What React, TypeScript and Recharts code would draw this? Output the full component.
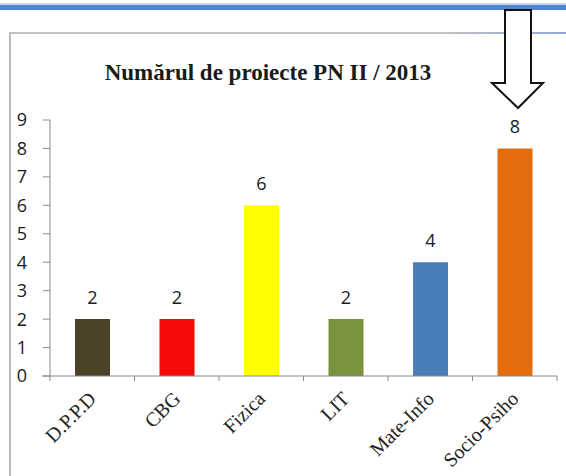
import { BarChart, Bar, XAxis, YAxis, Cell, LabelList } from "recharts";

const categories = ["D.P.P.D", "CBG", "Fizica", "LIT", "Mate-Info", "Socio-Psiho"];
const projectCounts = [2, 2, 6, 2, 4, 8];
const barColors = ["#4a4327", "#f80808", "#ffff00", "#77933c", "#4a7ebb", "#e46c0a"];
const yTicks = [0, 1, 2, 3, 4, 5, 6, 7, 8, 9];

const data = categories.map((name, i) => ({ name, value: projectCounts[i] }));

const W = 566;
const H = 476;
const Y_AXIS_W = 50;
const MARGIN = { top: 120, right: 9, left: 0, bottom: 0 };
const BAND = (W - MARGIN.right - Y_AXIS_W) / categories.length;
const AXIS_GRAY = "#8a8a8a";
const SANS = "'Open Sans', Lato, sans-serif";
const SERIF = "'Liberation Serif', 'Times New Roman', serif";

const CategoryTick = (props: any) => {
  const { x, y, payload, index } = props;
  const half = BAND / 2;
  return (
    <g>
      {index === 0 && (
        <>
          <line x1={x - half - 8} y1={y} x2={x - half} y2={y} stroke={AXIS_GRAY} />
          <line x1={x - half} y1={y} x2={x - half} y2={y + 5} stroke={AXIS_GRAY} />
        </>
      )}
      <line x1={x + half} y1={y} x2={x + half} y2={y + 5} stroke={AXIS_GRAY} />
      <text
        x={x + 5}
        y={y + 24}
        textAnchor="end"
        transform={`rotate(-45, ${x + 5}, ${y + 24})`}
        fontFamily={SERIF}
        fontSize={20}
        fill="#222"
      >
        {payload.value}
      </text>
    </g>
  );
};

export default function App() {
  return (
    <div
      style={{
        position: "absolute",
        left: 0,
        top: 0,
        width: W,
        height: H,
        background: "#fff",
        overflow: "hidden",
      }}
    >
      {/* slide decoration */}
      <div style={{ position: "absolute", left: 0, top: 3, width: W, height: 2, background: "#c4d5f1" }} />
      <div style={{ position: "absolute", left: 0, top: 5, width: W, height: 5, background: "#4f84d2" }} />
      <div style={{ position: "absolute", left: 9, top: 33, width: 2, height: H, background: "#bcbcbc" }} />
      <div
        style={{
          position: "absolute",
          left: 9,
          top: 32,
          width: W,
          height: 2,
          background: "linear-gradient(to right, #c0c0c0 0%, #c0c0c0 78%, #8aa6dc 100%)",
        }}
      />

      <div
        style={{
          position: "absolute",
          left: 0,
          top: 60,
          width: 536,
          textAlign: "center",
          fontFamily: SERIF,
          fontWeight: "bold",
          fontSize: 23,
          color: "#1a1a1a",
        }}
      >
        Numărul de proiecte PN II / 2013
      </div>

      <div style={{ position: "absolute", left: 0, top: 0 }}>
        <BarChart width={W} height={H} data={data} margin={MARGIN}>
          <YAxis
            width={Y_AXIS_W}
            domain={[0, 9]}
            ticks={yTicks}
            interval={0}
            tickSize={7}
            tickMargin={16}
            axisLine={{ stroke: AXIS_GRAY }}
            tickLine={{ stroke: AXIS_GRAY }}
            tick={{ fill: "#1a1a1a", fontSize: 18, fontFamily: SANS }}
          />
          <XAxis
            dataKey="name"
            height={100}
            interval={0}
            tickSize={0}
            tickMargin={0}
            tickLine={false}
            axisLine={{ stroke: AXIS_GRAY }}
            tick={<CategoryTick />}
          />
          <Bar dataKey="value" barSize={35} isAnimationActive={false}>
            {data.map((d, i) => (
              <Cell key={`bar-${d.name}`} fill={barColors[i]} />
            ))}
            <LabelList
              dataKey="value"
              position="top"
              offset={15}
              fill="#1a1a1a"
              fontSize={18}
              fontFamily={SANS}
            />
          </Bar>
        </BarChart>
      </div>

      <svg
        width={W}
        height={H}
        style={{ position: "absolute", left: 0, top: 0, pointerEvents: "none" }}
      >
        <path
          d="M505,10 L531,10 L531,83 L543,83 L518,108 L492,83 L505,83 Z"
          fill="#fff"
          stroke="#111"
          strokeWidth={2}
        />
      </svg>
    </div>
  );
}
